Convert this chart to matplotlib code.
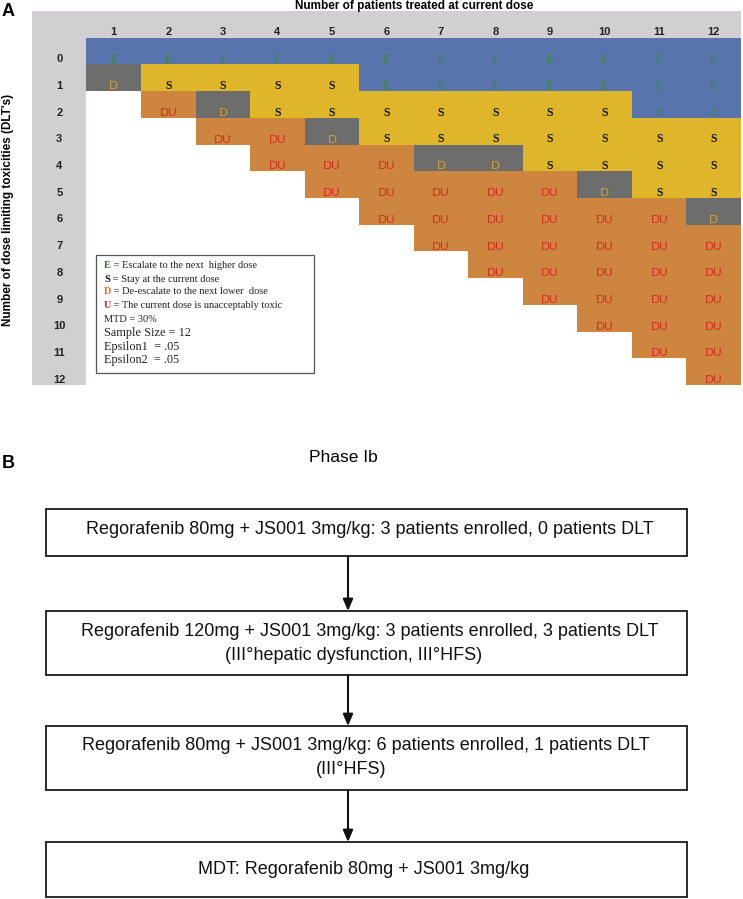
import matplotlib
matplotlib.use('Agg')
import matplotlib.pyplot as plt
import numpy as np
from matplotlib.colors import ListedColormap
from matplotlib.patches import Rectangle

# ---------------- data ----------------
patients = ["1", "2", "3", "4", "5", "6", "7", "8", "9", "10", "11", "12"]
dlt_counts = ["0", "1", "2", "3", "4", "5", "6", "7", "8", "9", "10", "11", "12"]

decisions = [
    ["E", "E", "E", "E", "E", "E", "E", "E", "E", "E", "E", "E"],
    ["D", "S", "S", "S", "S", "E", "E", "E", "E", "E", "E", "E"],
    ["", "DU", "D", "S", "S", "S", "S", "S", "S", "S", "E", "E"],
    ["", "", "DU", "DU", "D", "S", "S", "S", "S", "S", "S", "S"],
    ["", "", "", "DU", "DU", "DU", "D", "D", "S", "S", "S", "S"],
    ["", "", "", "", "DU", "DU", "DU", "DU", "DU", "D", "S", "S"],
    ["", "", "", "", "", "DU", "DU", "DU", "DU", "DU", "DU", "D"],
    ["", "", "", "", "", "", "DU", "DU", "DU", "DU", "DU", "DU"],
    ["", "", "", "", "", "", "", "DU", "DU", "DU", "DU", "DU"],
    ["", "", "", "", "", "", "", "", "DU", "DU", "DU", "DU"],
    ["", "", "", "", "", "", "", "", "", "DU", "DU", "DU"],
    ["", "", "", "", "", "", "", "", "", "", "DU", "DU"],
    ["", "", "", "", "", "", "", "", "", "", "", "DU"],
]

legend_keys = ["E", "S", "D", "U"]
legend_desc = [" = Escalate to the next  higher dose",
               " = Stay at the current dose",
               " = De-escalate to the next lower  dose",
               " = The current dose is unacceptably toxic"]
legend_params = ["MTD = 30%", "Sample Size = 12", "Epsilon1  = .05", "Epsilon2  = .05"]

flow_title = "Phase Ib"
flow_steps = [
    ["Regorafenib 80mg + JS001 3mg/kg: 3 patients enrolled, 0 patients DLT"],
    ["Regorafenib 120mg + JS001 3mg/kg: 3 patients enrolled, 3 patients DLT",
     "(III\u00b0hepatic dysfunction, III\u00b0HFS)"],
    ["Regorafenib 80mg + JS001 3mg/kg: 6 patients enrolled, 1 patients DLT",
     "(III\u00b0HFS)"],
    ["MDT: Regorafenib 80mg + JS001 3mg/kg"],
]

# ---------------- styles ----------------
W, H, DPI = 743, 899, 100
FRAME = "#D1CFD1"
cell_color = {"": "#FFFFFF", "E": "#5774AD", "S": "#DFB62A", "D": "#6D6D6D", "DU": "#CE853F"}
text_color = {"E": "#3C8A2C", "S": "#111111", "D": "#D7A331", "DU": "#D52A1F"}
legend_key_color = {"E": "#2E7D32", "S": "#111111", "D": "#E07020", "U": "#C62828"}

fig = plt.figure(figsize=(W / DPI, H / DPI), dpi=DPI)

# ---------------- panel A grid ----------------
codes_list = ["frame", "", "E", "S", "D", "DU"]
cmap = ListedColormap([FRAME] + [cell_color[k] for k in codes_list[1:]])
nrows = len(dlt_counts) + 1
ncols = len(patients) + 1
grid = np.zeros((nrows, ncols), dtype=int)
for r, row in enumerate(decisions):
    for c, val in enumerate(row):
        grid[r + 1, c + 1] = codes_list.index(val)

gx0, gx1, gy0, gy1 = 32, 741, 11, 385
axg = fig.add_axes([gx0 / W, 1 - gy1 / H, (gx1 - gx0) / W, (gy1 - gy0) / H])
axg.imshow(grid, cmap=cmap, vmin=-0.5, vmax=len(codes_list) - 0.5,
           extent=(0, ncols, nrows, 0), aspect="auto", interpolation="nearest")
axg.set_xlim(0, ncols)
axg.set_ylim(nrows, 0)
axg.axis("off")

lab_font = dict(family="Liberation Sans", fontweight="bold", fontsize=8, color="#222222")
for c, p in enumerate(patients):
    axg.text(c + 1.5, 0.78, p, ha="center", va="center", **lab_font)
for r, d in enumerate(dlt_counts):
    axg.text(0.5, r + 1.8, d, ha="center", va="center", **lab_font)

for r, row in enumerate(decisions):
    for c, val in enumerate(row):
        if not val:
            continue
        if val == "S":
            axg.text(c + 1.5, r + 1.8, val, ha="center", va="center", fontsize=8.5,
                     family="Liberation Serif", fontweight="bold", color=text_color[val])
        else:
            axg.text(c + 1.5, r + 1.8, val, ha="center", va="center", fontsize=8.5,
                     family="Lato", color=text_color[val])

# ---------------- overlay ----------------
ax = fig.add_axes([0, 0, 1, 1])
ax.set_xlim(0, W)
ax.set_ylim(H, 0)
ax.axis("off")
ax.patch.set_alpha(0)

ax.text(2, 12, "A", fontsize=13, fontweight="bold", family="Liberation Sans", va="center", ha="left")
ax.text(414, 5.5, "Number of patients treated at current dose", fontsize=8.5, fontweight="bold",
        family="Liberation Sans", ha="center", va="center")
ax.text(8, 210, "Number of dose limiting toxicities (DLT's)", fontsize=8.5, fontweight="bold",
        family="Liberation Sans", ha="center", va="center", rotation=90)

# legend box
ax.add_patch(Rectangle((96, 255), 218, 118, facecolor="white", edgecolor="#555555", lw=0.9, zorder=3))
ly = [266, 279, 292, 305]
for y, k, d in zip(ly, legend_keys, legend_desc):
    t = ax.text(104, y, k, fontsize=7.5, family="Liberation Serif", fontweight="bold",
                color=legend_key_color[k], va="center", ha="left", zorder=4)
    ax.annotate(d, xycoords=t, xy=(1, 0.5), va="center", ha="left", fontsize=7.5,
                family="Liberation Serif", color="#222222", zorder=4)
for y, s, fs in zip([319, 333, 347, 360], legend_params, [7.5, 8.8, 8.8, 8.8]):
    ax.text(104, y, s, fontsize=fs, family="Liberation Serif", color="#222222",
            va="center", ha="left", zorder=4)

# ---------------- panel B ----------------
ax.text(2, 463, "B", fontsize=13, fontweight="bold", family="Liberation Sans", va="center", ha="left")
ax.text(343, 457, flow_title, fontsize=12.5, family="Liberation Sans", va="center", ha="center")

bx0, bx1 = 46, 687
box_tops = [509, 611, 726, 842]
box_bots = [556, 675, 790, 897]
line_centers = [[530], [632, 656], [746, 769], [869]]
line_x = [[370], [370, 354], [366, 351], [364]]
arrow_x = 348
for i, lines in enumerate(flow_steps):
    ax.add_patch(Rectangle((bx0, box_tops[i]), bx1 - bx0, box_bots[i] - box_tops[i],
                           facecolor="white", edgecolor="#1a1a1a", lw=1.3))
    for s, y, x in zip(lines, line_centers[i], line_x[i]):
        ax.text(x, y, s, fontsize=13, family="Liberation Sans", ha="center", va="center",
                color="#111111")
    if i < len(flow_steps) - 1:
        ax.annotate("", xy=(arrow_x, box_tops[i + 1]), xytext=(arrow_x, box_bots[i]),
                    arrowprops=dict(arrowstyle="-|>,head_length=0.7,head_width=0.3",
                                    color="#111111", lw=1.5, shrinkA=0, shrinkB=0))

fig.savefig("out.png", dpi=DPI)
